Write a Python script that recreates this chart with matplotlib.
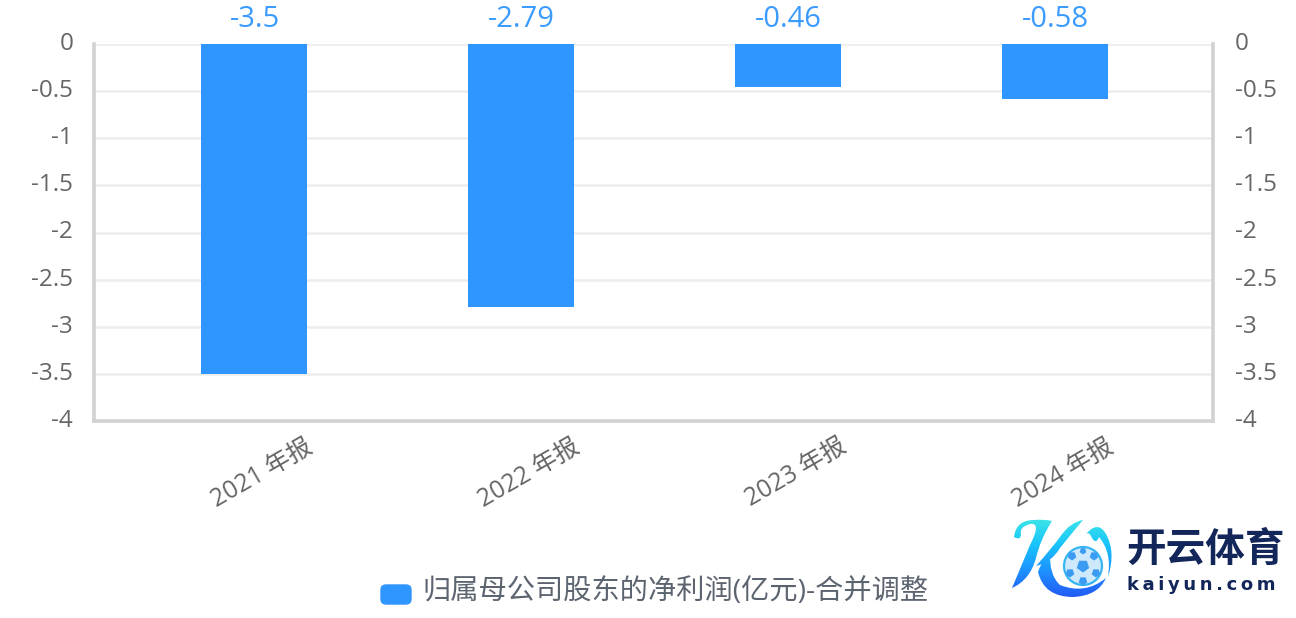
import matplotlib
matplotlib.use("Agg")
import matplotlib.pyplot as plt
from matplotlib.patches import FancyBboxPatch, Circle, PathPatch, RegularPolygon
from matplotlib.path import Path
from matplotlib.colors import LinearSegmentedColormap
from matplotlib.transforms import ScaledTranslation
import numpy as np

plt.rcParams['font.family'] = ['Open Sans', 'Noto Sans CJK SC', 'DejaVu Sans']

categories = ['2021 年报', '2022 年报', '2023 年报', '2024 年报']
values = [-3.5, -2.79, -0.46, -0.58]
value_labels = ['-3.5', '-2.79', '-0.46', '-0.58']
ticks = [0, -0.5, -1, -1.5, -2, -2.5, -3, -3.5, -4]
tick_labels = ['0', '-0.5', '-1', '-1.5', '-2', '-2.5', '-3', '-3.5', '-4']
legend_label = '归属母公司股东的净利润(亿元)-合并调整'
logo_cn = '开云体育'
logo_en = 'k\u2009a\u2009i\u2009y\u2009u\u2009n\u2009.\u2009c\u2009o\u2009m'

W, H = 1296, 618
BLUE = '#3096FF'
GREY = '#666666'
fig = plt.figure(figsize=(W / 100, H / 100), dpi=100, facecolor='white')
L, R, T, B = 94, 1213, 44, 421
ax = fig.add_axes([L / W, 1 - B / H, (R - L) / W, (B - T) / H])
ax.set_xlim((L - 254) / 267, (R - 254) / 267)
ax.set_ylim(-4, 0)
x = np.arange(len(categories))
ax.bar(x, values, width=0.4, color=BLUE, zorder=3)
for xi, v, t in zip(x, values, value_labels):
    ax.annotate(t, (xi, 0), xytext=(0.5, 7.5), textcoords='offset points', ha='center',
                va='bottom', fontsize=21, color='#3C9BFF', annotation_clip=False)

ax.set_yticks(ticks)
ax.set_yticklabels(tick_labels)
ax.tick_params(axis='y', length=0, pad=15, labelsize=17.5, labelcolor=GREY)
ax.grid(axis='y', color='#EDEDED', lw=1.8, zorder=0)
ax.set_axisbelow(True)
ax.set_xticks(x)
ax.set_xticklabels(categories, rotation=30, ha='center', rotation_mode='default')
ax.tick_params(axis='x', length=0, pad=10, labelsize=17.8, labelcolor=GREY)

for lab in ax.get_yticklabels():
    lab.set_transform(lab.get_transform() + ScaledTranslation(0, 0.03, fig.dpi_scale_trans))
for lab in ax.get_xticklabels():
    lab.set_transform(lab.get_transform() + ScaledTranslation(0.085, 0, fig.dpi_scale_trans))

for s in ['left', 'right', 'bottom']:
    ax.spines[s].set_color('#D2D2D2')
    ax.spines[s].set_linewidth(2.6)
ax.spines['top'].set_visible(False)

# right-hand tick labels
ay = ax.secondary_yaxis('right')
ay.set_yticks(ticks)
ay.set_yticklabels(tick_labels)
ay.tick_params(axis='y', length=0, pad=16, labelsize=17.5, labelcolor=GREY)
ay.spines['right'].set_visible(False)
for lab in ay.get_yticklabels():
    lab.set_transform(lab.get_transform() + ScaledTranslation(0, 0.03, fig.dpi_scale_trans))

# overlay in pixel coordinates
ov = fig.add_axes([0, 0, 1, 1], facecolor='none')
ov.set_xlim(0, W)
ov.set_ylim(H, 0)
ov.axis('off')

ov.add_patch(FancyBboxPatch((381, 585), 30, 19, boxstyle='round,pad=0,rounding_size=5',
                            fc=BLUE, ec=BLUE, lw=1))
ov.text(422, 592, legend_label, fontsize=20.3, color='#5C6470', va='center', ha='left')

# logo
ov.text(1126, 549, logo_cn, fontsize=28.5, color='#12265A', va='center', ha='left',
        fontweight='bold', family=['Noto Sans CJK SC'])
ov.text(1127, 585, logo_en, fontsize=13, color='#12265A', va='center', ha='left',
        fontweight='bold', family=['DejaVu Sans'])

cmap = LinearSegmentedColormap.from_list('k', ['#3EE6E6', '#18C4FB', '#1E90FF', '#2358F5'])
grad = np.linspace(0, 1, 256).reshape(-1, 1)
def fill(verts):
    codes = [Path.MOVETO] + [Path.CURVE3] * (len(verts) - 2) + [Path.LINETO]
    p = PathPatch(Path(verts, codes), fc='none', ec='none')
    ov.add_patch(p)
    im = ov.imshow(grad, extent=(1010, 1116, 598, 518), cmap=cmap, aspect='auto', zorder=2)
    im.set_clip_path(p)

# K stem with curl
fill([(1014, 537), (1016, 520), (1034, 520), (1044, 519), (1052, 521), (1040, 540),
      (1036, 558), (1030, 580), (1012, 588), (1023, 562), (1030, 545), (1042, 522),
      (1030, 524), (1019, 527), (1021, 534), (1021, 541), (1014, 537)])
# K arm
fill([(1036, 566), (1052, 548), (1060, 537), (1070, 522), (1083, 520), (1072, 533),
      (1060, 548), (1052, 562), (1036, 566)])
# lower swoosh
fill([(1050, 553), (1049, 575), (1060, 585), (1085, 595), (1106, 578), (1098, 596),
      (1073, 597), (1044, 597), (1038, 572), (1042, 560), (1050, 553)])
# upper-right curl
fill([(1086, 534), (1098, 520), (1106, 534), (1116, 552), (1108, 577), (1112, 552),
      (1099, 537), (1096, 545), (1092, 538), (1089, 531), (1086, 534)])
# ball
ov.add_patch(Circle((1083, 566), 19, fc='#CDE9FB', ec='#35B6F2', lw=1.6, zorder=3))
for cx, cy, r in [(1083, 566, 6.5), (1072, 556, 4.5), (1094, 556, 4.5), (1070, 573, 4.5),
                  (1096, 573, 4.5), (1083, 581, 4.5), (1083, 551, 3.5)]:
    ov.add_patch(RegularPolygon((cx, cy), 5, radius=r, fc='#3B9BF3', ec='none', zorder=4))

fig.savefig('out.png', dpi=100, facecolor='white')
